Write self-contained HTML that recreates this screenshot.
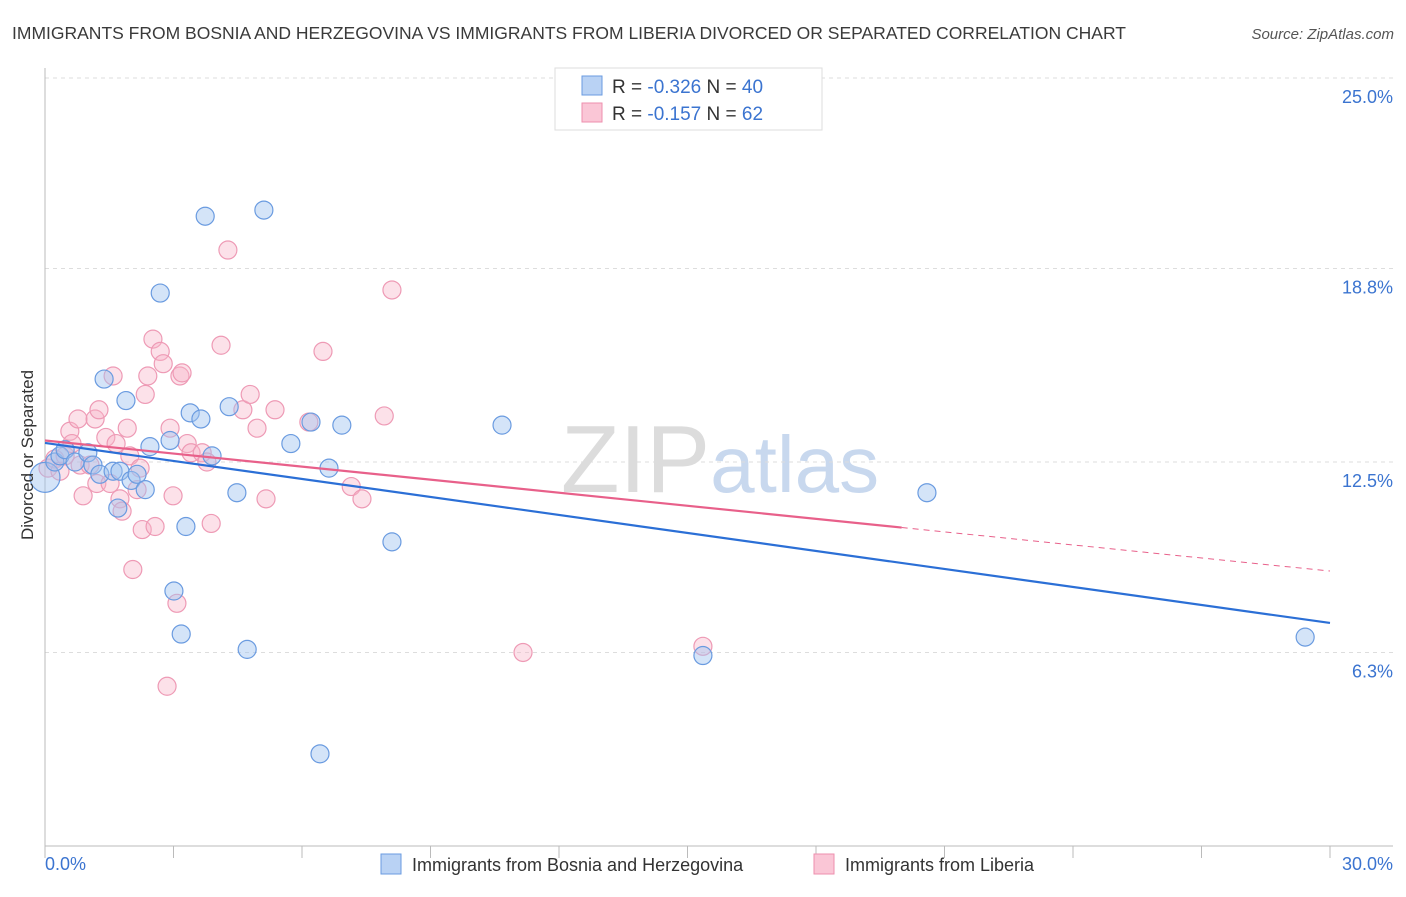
<!DOCTYPE html>
<html><head><meta charset="utf-8"><style>
body{margin:0;background:#fff;font-family:"Liberation Sans",sans-serif}
svg text{font-family:"Liberation Sans",sans-serif}
</style></head><body>
<svg id="chart" width="1406" height="892" xmlns="http://www.w3.org/2000/svg">
<text x="12" y="39" font-size="17.5" fill="#3a3a3a">IMMIGRANTS FROM BOSNIA AND HERZEGOVINA VS IMMIGRANTS FROM LIBERIA DIVORCED OR SEPARATED CORRELATION CHART</text>
<text x="1394" y="39" font-size="15" fill="#555" font-style="italic" text-anchor="end">Source: ZipAtlas.com</text>
<text x="720" y="492" font-size="96" text-anchor="middle" fill="#dcdcdc" font-family="Liberation Serif">ZIP<tspan fill="#c8d8ee" font-family="Liberation Sans" font-size="80">atlas</tspan></text>
<g id="grid"></g>
<g id="axes"></g>
<g id="marks"></g>
<text transform="translate(33,455) rotate(-90)" font-size="17" fill="#333" text-anchor="middle">Divorced or Separated</text>
<g>
<rect x="555" y="68" width="267" height="62" fill="#fff" stroke="#ddd"/>
<rect x="582" y="76" width="20" height="19" fill="#b9d2f4" stroke="#6a9be0"/>
<rect x="582" y="103" width="20" height="19" fill="#fac6d6" stroke="#ee8fae"/>
<text x="612" y="93" font-size="19" fill="#333">R = <tspan fill="#3b74d0">-0.326</tspan>   N = <tspan fill="#3b74d0">40</tspan></text>
<text x="612" y="120" font-size="19" fill="#333">R =  <tspan fill="#3b74d0">-0.157</tspan>   N =  <tspan fill="#3b74d0">62</tspan></text>
</g>
<g>
<rect x="381" y="854" width="20" height="20" fill="#b9d2f4" stroke="#6a9be0"/>
<text x="412" y="871" font-size="18" fill="#333">Immigrants from Bosnia and Herzegovina</text>
<rect x="814" y="854" width="20" height="20" fill="#fac6d6" stroke="#ee8fae"/>
<text x="845" y="871" font-size="18" fill="#333">Immigrants from Liberia</text>
</g>
</svg>
<script>
const yTicks=[25.0,18.8,12.5,6.3];
const yTickLabels=["25.0%","18.8%","12.5%","6.3%"];
const xTickLabels=["0.0%","30.0%"];
const bosniaX=[0,0.23,0.35,0.47,0.70,1.0,1.12,1.28,1.38,1.59,1.70,1.75,1.89,2.01,2.15,2.34,2.45,2.69,2.92,3.01,3.18,3.29,3.39,3.64,3.74,3.90,4.30,4.48,4.72,5.11,5.74,6.21,6.42,6.63,6.93,8.10,10.67,15.36,20.59,29.42];
const bosniaY=[12.0,12.5,12.7,12.9,12.5,12.8,12.4,12.1,15.2,12.2,11.0,12.2,14.5,11.9,12.1,11.6,13.0,18.0,13.2,8.3,6.9,10.4,14.1,13.9,20.5,12.7,14.3,11.5,6.4,20.7,13.1,13.8,3.0,12.3,13.7,9.9,13.7,6.2,11.5,6.8];
const liberiaX=[0.07,0.23,0.35,0.47,0.58,0.63,0.77,0.82,0.89,1.05,1.17,1.21,1.26,1.42,1.52,1.59,1.66,1.75,1.80,1.92,1.98,2.05,2.15,2.22,2.27,2.34,2.40,2.52,2.57,2.69,2.76,2.85,2.92,2.99,3.08,3.15,3.20,3.32,3.41,3.67,3.78,3.88,4.11,4.27,4.62,4.79,4.95,5.16,5.37,6.16,6.49,7.15,7.40,7.92,8.10,11.16,15.36];
const liberiaY=[12.3,12.6,12.2,12.7,13.5,13.1,13.9,12.4,11.4,12.4,13.9,11.8,14.2,13.3,11.8,15.3,13.1,11.3,10.9,13.6,12.7,9.0,11.6,12.3,10.3,14.7,15.3,16.5,10.4,16.1,15.7,5.2,13.6,11.4,7.9,15.3,15.4,13.1,12.8,12.8,12.5,10.5,16.3,19.4,14.2,14.7,13.6,11.3,14.2,13.8,16.1,11.7,11.3,14.0,18.1,6.3,6.5];
const bosniaTrend=[13.12,7.26];
const liberiaTrend=[13.2,8.95];
const liberiaSolidEnd=20.0;
const NS="http://www.w3.org/2000/svg";
const X0=45,X1=1330,Y0=846,PXPER=192/6.25;
const sx=v=>X0+(v/30)*(X1-X0);
const sy=v=>Y0-v*PXPER;
function mk(tag,attrs,parent){const e=document.createElementNS(NS,tag);for(const k in attrs)e.setAttribute(k,attrs[k]);parent.appendChild(e);return e;}
const grid=document.getElementById('grid'),axes=document.getElementById('axes'),marks=document.getElementById('marks');
yTicks.forEach((t,i)=>{
  const l=mk('line',{x1:X0,x2:1393,y1:sy(t),y2:sy(t),stroke:'#ddd','stroke-dasharray':'4,4'},grid);
  
  
  const tx=mk('text',{x:1393,y:sy(t)+25,'font-size':18,fill:'#3b74d0','text-anchor':'end'},axes);
  tx.textContent=yTickLabels[i];
  
  
});
const ax=mk('path',{d:`M${X0},68V${Y0}H1393`,stroke:'#bbb',fill:'none'},axes);


for(let i=0;i<=10;i++){
  const tk=mk('line',{x1:sx(i*3),x2:sx(i*3),y1:Y0,y2:Y0+12,stroke:'#bbb'},axes);
  
  
}
[[0,'start',45],[30,'end',1393]].forEach((d,i)=>{
  const tx=mk('text',{x:d[2],y:870,'font-size':18,fill:'#3b74d0','text-anchor':d[1]},axes);
  tx.textContent=xTickLabels[i];
  
  
});
liberiaX.forEach((x,i)=>{
  const c=mk('circle',{cx:sx(x),cy:sy(liberiaY[i]),r:9,fill:'rgba(248,180,200,0.4)',stroke:'#ee9ab5','stroke-width':1.2},marks);
  
  
});
bosniaX.forEach((x,i)=>{
  const c=mk('circle',{cx:sx(x),cy:sy(bosniaY[i]),r:i==0?15:9,fill:'rgba(160,196,240,0.45)',stroke:'#6a9be0','stroke-width':1.2},marks);
  
  
});
const lt=v=>liberiaTrend[0]+(liberiaTrend[1]-liberiaTrend[0])*v/30;
const l1=mk('line',{x1:sx(0),y1:sy(liberiaTrend[0]),x2:sx(liberiaSolidEnd),y2:sy(lt(liberiaSolidEnd)),stroke:'#e8608a','stroke-width':2.2},marks);


const l2=mk('line',{x1:sx(liberiaSolidEnd),y1:sy(lt(liberiaSolidEnd)),x2:sx(30),y2:sy(liberiaTrend[1]),stroke:'#e8608a','stroke-width':1,'stroke-dasharray':'6,5'},marks);


const b1=mk('line',{x1:sx(0),y1:sy(bosniaTrend[0]),x2:sx(30),y2:sy(bosniaTrend[1]),stroke:'#2b6fd6','stroke-width':2.2},marks);


</script>
</body></html>
